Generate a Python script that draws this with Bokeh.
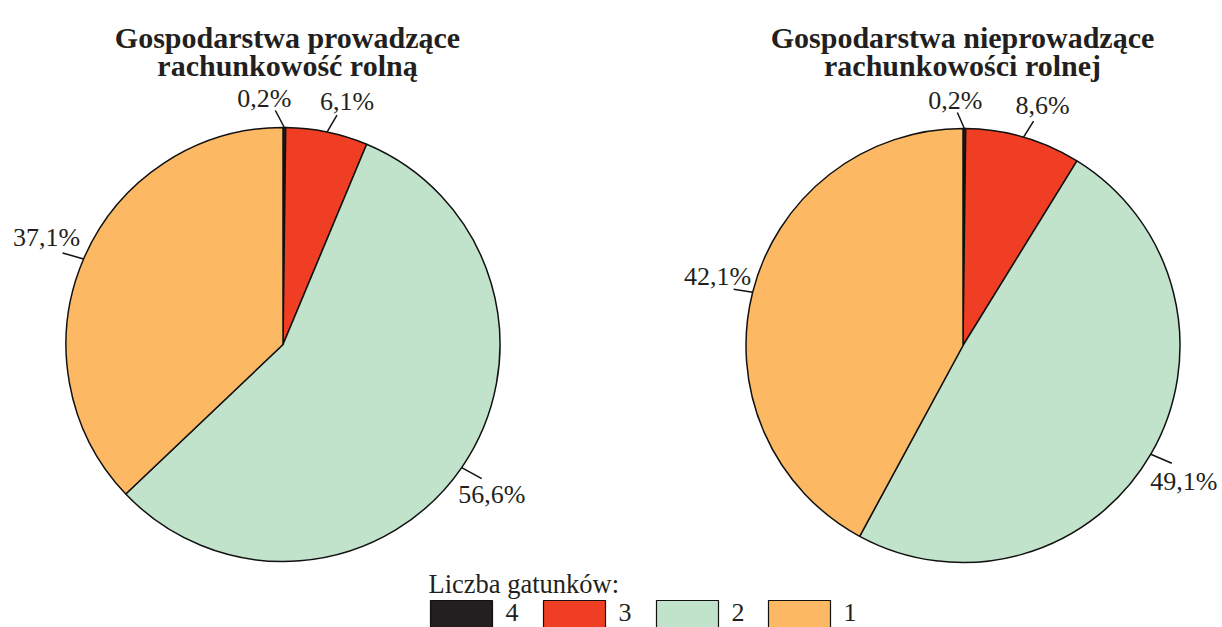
import math
from bokeh.plotting import figure
from bokeh.models import Range1d
from bokeh.core.properties import value
from bokeh.embed import file_html
from bokeh.resources import INLINE

# ---------------- data ----------------
categories = ["4", "3", "2", "1"]
colors = ["#231F20", "#EF3E23", "#C1E3CC", "#FDB863"]
left_title = ["Gospodarstwa prowadzące", "rachunkowość rolną"]
right_title = ["Gospodarstwa nieprowadzące", "rachunkowości rolnej"]
left_values = [0.2, 6.1, 56.6, 37.1]
right_values = [0.2, 8.6, 49.1, 42.1]
legend_title = "Liczba gatunków:"

# ---------------- layout (screen px) ----------------
W, H = 1222, 627
FONT = value("Liberation Serif")


def sy(Y):
    return 627 - Y


p = figure(width=W, height=H, output_backend="svg", toolbar_location=None,
           x_range=Range1d(0, W), y_range=Range1d(627 - H, 627),
           min_border=0, min_border_left=0, min_border_right=0,
           min_border_top=0, min_border_bottom=0)
p.axis.visible = False
p.grid.visible = False
p.outline_line_color = None
p.background_fill_color = "white"
p.border_fill_color = "white"

R = 217
pies = [
    dict(cx=282.5, cy=344.0, vals=left_values, title=left_title, tx=287,
         # (leader end offset, label centre offset) relative to rim point
         offs=[((-9, -17), (-20, -29)), ((10, -17), (20, -31)),
               ((20, 11), (30, 27)), ((-21, -6), (-37, -21))]),
    dict(cx=962.5, cy=345.0, vals=right_values, title=right_title, tx=962,
         offs=[((-7, -16), (-9, -28)), ((10, -16), (19, -32)),
               ((21, 9), (33, 27)), ((-19, -3), (-35, -16))]),
]

for pie in pies:
    cx, cy, vals = pie["cx"], pie["cy"], pie["vals"]
    total = sum(vals)
    cum = 0.0
    starts, ends = [], []
    for v in vals:
        a0 = math.pi / 2 - 2 * math.pi * cum / total
        cum += v
        a1 = math.pi / 2 - 2 * math.pi * cum / total
        starts.append(a1)
        ends.append(a0)
    p.wedge(x=[cx] * len(vals), y=[sy(cy)] * len(vals), radius=R,
            start_angle=starts, end_angle=ends, direction="anticlock",
            fill_color=colors, line_color="#111111", line_width=1.5)
    # labels and leader lines
    cum = 0.0
    for i, v in enumerate(vals):
        mid = cum + v / 2
        cum += v
        ang = 2 * math.pi * mid / total  # clockwise from top
        rx = cx + R * math.sin(ang)
        ry = cy - R * math.cos(ang)
        (d1x, d1y), (d2x, d2y) = pie["offs"][i]
        p.line(x=[rx, rx + d1x], y=[sy(ry), sy(ry + d1y)],
               line_color="#111111", line_width=1.5)
        label = ("%.1f" % v).replace(".", ",") + "%"
        p.text(x=[rx + d2x], y=[sy(ry + d2y)], text=[label],
               text_font=FONT, text_font_size="26px", text_color="#231F20",
               text_align="center", text_baseline="middle")
    # title
    for j, line in enumerate(pie["title"]):
        p.text(x=[pie["tx"]], y=[sy(37 + j * 28)], text=[line],
               text_font=FONT, text_font_size="30px", text_font_style="bold",
               text_color="#231F20", text_align="center",
               text_baseline="alphabetic")

# legend
p.text(x=[428], y=[sy(583)], text=[legend_title], text_font=FONT,
       text_font_size="26.5px", text_color="#231F20", text_align="left",
       text_baseline="alphabetic")
box_left = [430, 543, 656, 768]
for i, cat in enumerate(categories):
    bl = box_left[i]
    p.quad(left=[bl], right=[bl + 62], top=[sy(600)], bottom=[sy(640)],
           fill_color=colors[i], line_color="#111111", line_width=1.2)
    p.text(x=[bl + 75], y=[sy(612)], text=[cat], text_font=FONT,
           text_font_size="26px", text_color="#231F20", text_align="left",
           text_baseline="middle")

open("out.html", "w").write(file_html(p, INLINE))
